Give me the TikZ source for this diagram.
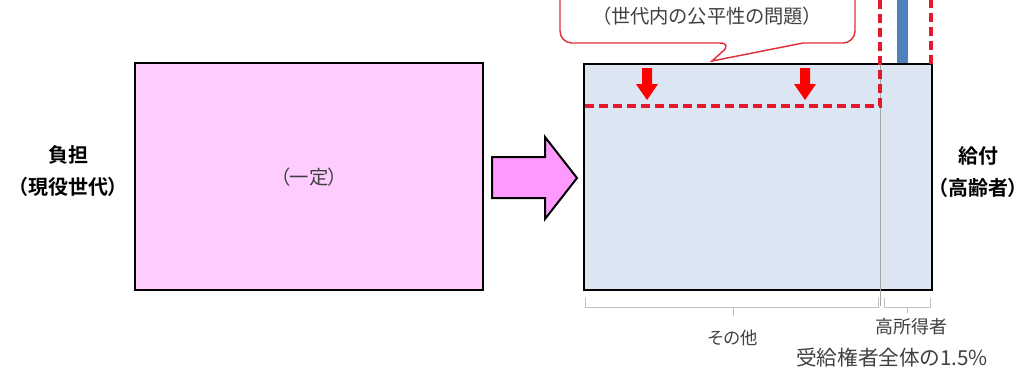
\documentclass[tikz,border=0pt]{standalone}
\usepackage{fontspec}
\setmainfont{Noto Sans CJK JP}[BoldFont={Noto Sans CJK JP Bold}]
\newfontfamily\jpp{Noto Sans CJK JP}[RawFeature=+palt,BoldFont={Noto Sans CJK JP Bold}]
\definecolor{pinkfill}{HTML}{FFCCFF}
\definecolor{arrowpink}{HTML}{FF99FF}
\definecolor{bluefill}{HTML}{DCE6F2}
\definecolor{barblue}{HTML}{4F81BD}
\definecolor{dashred}{HTML}{E3182D}
\definecolor{calred}{HTML}{E0303A}
\definecolor{brgray}{HTML}{BFBFBF}
\definecolor{txt}{HTML}{404040}
\tikzset{
  frame/.style={draw=black, line width=1.6pt},
  reddash/.style={draw=dashred, line width=2.4pt, dash pattern=on 7pt off 3.5pt},
  brace/.style={draw=brgray, line width=0.6pt},
  lbl/.style={font=\jpp\fontsize{13}{15}\selectfont, text=txt, inner sep=0pt},
  side/.style={font=\jpp\fontsize{15}{18}\selectfont\bfseries, text=black, inner sep=0pt, align=center}
}
\begin{document}
\begin{tikzpicture}[x=0.75pt,y=-0.75pt]
\useasboundingbox (0,0) rectangle (1028,380);
\clip (0,0) rectangle (1028,380);
% left box
\draw[frame, fill=pinkfill] (135,63) rectangle (483,290);
\node[lbl, font=\jpp\fontsize{14.5}{16}\selectfont] (const) at (309,177) {（一定）};
% big arrow
\draw[fill=arrowpink, line width=1.5pt, line join=miter] (492,157) -- (545,157) -- (545,137) -- (577,178) -- (545,219) -- (545,198) -- (492,198) -- cycle;
% right box
\draw[frame, fill=bluefill] (584,64) rectangle (932,290);
\draw[draw=gray!70, line width=0.5pt] (880,65) -- (880,306);
% blue bar
\fill[barblue] (897,-5) rectangle (908,63);
% red dashed
\draw[reddash] (585,106) -- (880,106) -- (880,-5);
\draw[reddash] (931,64) -- (931,-5);
% red arrows
\foreach \cx in {647,805}{
  \fill[red] (\cx-5,68) -- (\cx+5,68) -- (\cx+5,84) -- (\cx+11,84) -- (\cx,100) -- (\cx-11,84) -- (\cx-5,84) -- cycle;
}
% callout
\draw[calred, line width=1.1pt, fill=white] (560,-30) [rounded corners=9pt] -- (560,43) -- (732,43) [sharp corners] -- (712,61) -- (803,43) [rounded corners=9pt] -- (855,43) -- (855,-30) [sharp corners] -- cycle;
\node[lbl, font=\jpp\fontsize{14.5}{16}\selectfont] (issue) at (707,16) {（世代内の公平性の問題）};
% braces
\draw[brace] (585,298) -- (585,307) -- (878,307) -- (878,298);
\draw[brace] (733,307) -- (733,316);
\draw[brace] (884,298) -- (884,307) -- (930,307) -- (930,298);
\draw[brace] (907,307) -- (907,313);
% labels
\node[side] (burden) at (68,155) {負担};
\node[side] (burden2) at (68,187) {（現役世代）};
\node[side] (benefit) at (978,156) {給付};
\node[side] (benefit2) at (978,188) {（高齢者）};
\node[lbl] (other) at (733,338) {その他};
\node[lbl, font=\jpp\fontsize{13.5}{15}\selectfont] (high) at (911,327) {高所得者};
\node[lbl, font=\jpp\fontsize{15.5}{17}\selectfont] (share) at (892,358) {受給権者全体の1.5\%};
\end{tikzpicture}
\end{document}
